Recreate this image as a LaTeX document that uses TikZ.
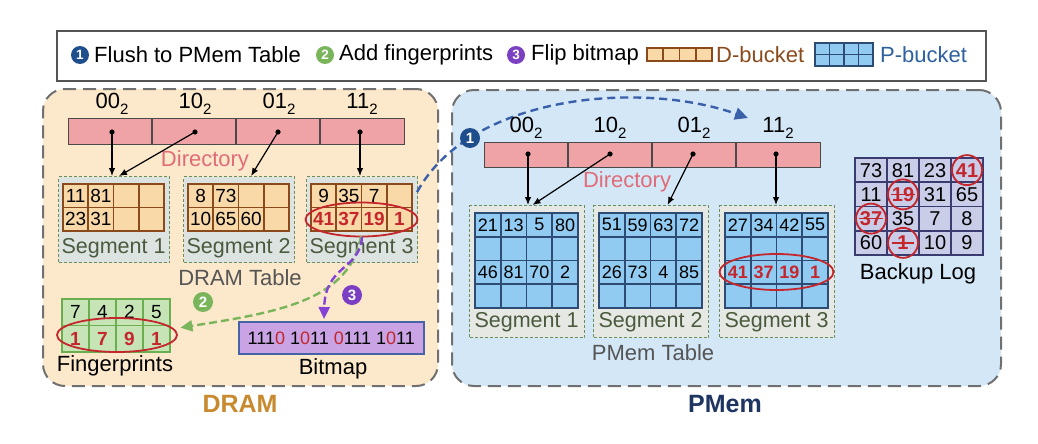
\documentclass[tikz,border=0pt]{standalone}
\usepackage{fontspec}
\setmainfont{Liberation Sans}
\usetikzlibrary{arrows.meta,calc}
\definecolor{dramfill}{HTML}{FCE8CB}
\definecolor{pmemfill}{HTML}{D4E7F7}
\definecolor{panelgray}{HTML}{707070}
\definecolor{legendgray}{HTML}{555555}
\definecolor{dirpink}{HTML}{F0A3A6}
\definecolor{dirline}{HTML}{4A4A4A}
\definecolor{dirtext}{HTML}{E06C78}
\definecolor{segfillA}{HTML}{DDE3E0}
\definecolor{segfillB}{HTML}{E6E9E3}
\definecolor{seggreen}{HTML}{6B8E5A}
\definecolor{seglabel}{HTML}{4B5A3F}
\definecolor{dbfill}{HTML}{FAD9A8}
\definecolor{dbline}{HTML}{8B4A1C}
\definecolor{pbfill}{HTML}{92CBF2}
\definecolor{pbline}{HTML}{2E4C73}
\definecolor{blfill}{HTML}{C9CDE8}
\definecolor{blline}{HTML}{3A3B6E}
\definecolor{fpfill}{HTML}{C6E4B6}
\definecolor{fpline}{HTML}{6AAE50}
\definecolor{bmfill}{HTML}{C9A3E3}
\definecolor{bmline}{HTML}{4563A8}
\definecolor{myred}{HTML}{C4262C}
\definecolor{cone}{HTML}{1F4E8D}
\definecolor{ctwo}{HTML}{7AB55C}
\definecolor{cthree}{HTML}{7B3FC4}
\definecolor{bluedash}{HTML}{3B60AA}
\definecolor{greendash}{HTML}{7AB55C}
\definecolor{purpledash}{HTML}{8443D6}
\definecolor{dramlabel}{HTML}{C78A2E}
\definecolor{pmemlabel}{HTML}{1F3561}
\definecolor{dbtext}{HTML}{8B4A1C}
\definecolor{pbtext}{HTML}{2F60A0}
\definecolor{tablegray}{HTML}{555555}
\newcommand\fsz[1]{\fontsize{#1}{#1}\selectfont}
\newcommand\subtwo{\raisebox{-0.3em}{\fsz{15}2}}
% #1 outer style, #2 inner style, #3 x0, #4 y0, #5 x1, #6 y1, #7 cols-1, #8 rows-1
\newcommand\mygrid[8]{%
  \path[#1] (#3,#4) rectangle (#5,#6);
  \foreach \i in {1,...,#7}{\draw[#2] ({#3+\i*(#5-#3)/(#7+1)},#4) -- ({#3+\i*(#5-#3)/(#7+1)},#6);}
  \foreach \j in {1,...,#8}{\draw[#2] (#3,{#4+\j*(#6-#4)/(#8+1)}) -- (#5,{#4+\j*(#6-#4)/(#8+1)});}
  \path[#1,fill=none] (#3,#4) rectangle (#5,#6);
}
% #1 x0, #2 y0, #3 w, #4 h, #5 style, #6 list c/r/v, #7 name prefix
\newcommand\nums[7]{%
  \foreach \c/\r/\v in {#6}{\node[#5] (#7\c\r) at ({#1+(\c-0.5)*#3},{#2+(\r-0.5)*#4}) {\v};}
}
\begin{document}
\begin{tikzpicture}[x=1pt,y=-1pt,
  panel/.style={draw=panelgray, line width=2pt, dash pattern=on 13pt off 7pt, rounded corners=22pt, inner sep=0pt},
  segbox/.style={draw=seggreen, line width=1.1pt, dash pattern=on 3pt off 2pt, fill=segfillA, inner sep=0pt},
  segboxb/.style={segbox, fill=segfillB},
  dirbar/.style={draw=dirline, line width=1.3pt, fill=dirpink, inner sep=0pt},
  dirsep/.style={draw=dirline, line width=1.3pt},
  dirlbl/.style={font=\fsz{22}, inner sep=0pt},
  dirtxt/.style={font=\fsz{22}, text=dirtext, inner sep=0pt},
  dirarrow/.style={-{Latex[length=8pt,width=6.5pt]}, line width=1.2pt},
  dbout/.style={draw=dbline, fill=dbfill, line width=2.6pt},
  dbin/.style={draw=dbline, line width=1.8pt},
  pbout/.style={draw=pbline, fill=pbfill, line width=2.6pt},
  pbin/.style={draw=pbline, line width=1.6pt},
  blout/.style={draw=blline, fill=blfill, line width=2.2pt},
  blin/.style={draw=blline, line width=1.6pt},
  fpout/.style={draw=fpline, fill=fpfill, line width=2.4pt},
  fpin/.style={draw=fpline, line width=1.6pt},
  bmbox/.style={draw=bmline, fill=bmfill, line width=1.6pt, inner sep=0pt, font=\fsz{18}},
  cellnum/.style={inner sep=0pt, font=\fsz{19}},
  rednum/.style={inner sep=0pt, font=\fsz{19}\bfseries, text=myred},
  pnum/.style={inner sep=0pt, font=\fsz{18}},
  prednum/.style={inner sep=0pt, font=\fsz{18}\bfseries, text=myred},
  bnum/.style={inner sep=0pt, font=\fsz{20}},
  brednum/.style={inner sep=0pt, font=\fsz{20}\bfseries, text=myred},
  redring/.style={draw=myred, line width=1.8pt},
  seglbl/.style={font=\fsz{21.5}, text=seglabel, inner sep=0pt},
  tbllbl/.style={font=\fsz{22}, text=tablegray, inner sep=0pt},
  plainlbl/.style={font=\fsz{22}, inner sep=0pt},
  numcirc/.style={circle, minimum size=20pt, inner sep=0pt, text=white, font=\fsz{15}\bfseries},
  lgcirc/.style={numcirc, minimum size=18pt, font=\fsz{13.5}\bfseries},
  lgtext/.style={font=\fsz{22}, inner sep=0pt, anchor=west},
  bluearrow/.style={draw=bluedash, line width=2.4pt, dash pattern=on 8pt off 5pt, -{Triangle[length=13pt,width=12pt]}},
  greenarrow/.style={draw=greendash, line width=2.4pt, dash pattern=on 8pt off 4pt, -{Triangle[length=12pt,width=11pt]}},
  purplearrow/.style={draw=purpledash, line width=2.4pt, dash pattern=on 8pt off 4pt, -{Triangle[length=12pt,width=11pt]}}
]
\fill[white] (0,0) rectangle (1038,444);
\useasboundingbox (0,0) rectangle (1038,444);

% ---------- legend ----------
\node[draw=legendgray, line width=1.8pt, minimum width=929pt, minimum height=50pt, anchor=north west, inner sep=0pt] (legend) at (56,30) {};
\node[lgcirc, fill=cone] (lc1) at (80,55) {1};
\node[lgtext] (lt1) at (94,55) {Flush to PMem Table};
\node[lgcirc, fill=ctwo] (lc2) at (325,55) {2};
\node[lgtext] (lt2) at (339,55) {Add fingerprints};
\node[lgcirc, fill=cthree] (lc3) at (516,55) {3};
\node[lgtext] (lt3) at (531,55) {Flip bitmap};
\path[dbout] (647,48) rectangle (712,61);
\foreach \x in {663.25,679.5,695.75} \draw[dbin] (\x,48) -- (\x,61);
\path[dbout,fill=none] (647,48) rectangle (712,61);
\node[lgtext, text=dbtext] (lt4) at (716,55) {D-bucket};
\mygrid{pbout}{pbin}{815}{43}{873}{66}{3}{1}
\node[lgtext, text=pbtext] (lt5) at (880,55) {P-bucket};

% ---------- panels ----------
\node[panel, fill=dramfill, minimum width=395pt, minimum height=297pt, anchor=north west] (dram) at (42,88) {};
\node[panel, fill=pmemfill, minimum width=549pt, minimum height=296pt, anchor=north west] (pmem) at (451,89) {};
\node[font=\fsz{25}\bfseries, text=dramlabel, inner sep=0pt] (dramlbl) at (240,404) {DRAM};
\node[font=\fsz{25}\bfseries, text=pmemlabel, inner sep=0pt] (pmemlbl) at (725,404) {PMem};

% ---------- DRAM directory ----------
\node[dirbar, minimum width=336pt, minimum height=26pt, anchor=north west] (ddir) at (68,118) {};
\foreach \x in {152,236,320} \draw[dirsep] (\x,118) -- (\x,144);
\foreach \x/\t [count=\k] in {112/00,195/10,279/01,362/11} \node[dirlbl] (ddl\k) at (\x,104) {\t\subtwo};
\node[dirtxt] (ddirt) at (205,161) {Directory};
\coordinate (dd1) at (112,132);
\coordinate (dd2) at (195,132);
\coordinate (dd3) at (278,132);
\coordinate (dd4) at (360,132);

% ---------- DRAM segments ----------
\foreach \x/\k in {63/1,188/2,311/3} {
  \node[segbox, minimum width=111pt, minimum height=86pt, anchor=north west] (ds\k) at (\x-5,176) {};
  \mygrid{dbout}{dbin}{\x}{184}{\x+101}{231}{3}{1}
  \node[seglbl] (dsl\k) at (\x+50.5,248) {Segment \k};
}
\nums{63}{184}{25.25}{23.5}{cellnum}{1/1/11,2/1/81,1/2/23,2/2/31}{a}
\nums{188}{184}{25.25}{23.5}{cellnum}{1/1/8,2/1/73,1/2/10,2/2/65,3/2/60}{b}
\nums{311}{184}{25.25}{23.5}{cellnum}{1/1/9,2/1/35,3/1/7}{c}
\nums{311}{184}{25.25}{23.5}{rednum}{1/2/41,2/2/37,3/2/19,4/2/1}{d}
\draw[redring] (361.5,219.5) ellipse [x radius=56, y radius=17];

\foreach \k in {1,...,4} \fill (dd\k) circle (2.6);
\draw[dirarrow] (dd1) -- (dd1 |- ds1.north);
\draw[dirarrow] (dd2) -- ($(ds1.north)+(5,0)$);
\draw[dirarrow] (dd3) -- ($(ds2.north)+(12,0)$);
\draw[dirarrow] (dd4) -- (dd4 |- ds3.north);

\node[tbllbl] (dramtbl) at (240,278) {DRAM Table};

% ---------- fingerprints ----------
\node[inner sep=0pt, minimum width=108pt, minimum height=53pt, anchor=north west] (fp) at (62,299) {};
\mygrid{fpout}{fpin}{62}{299}{170}{352}{3}{1}
\nums{62}{299}{27}{26.5}{cellnum}{1/1/7,2/1/4,3/1/2,4/1/5}{f}
\nums{62}{299}{27}{26.5}{rednum}{1/2/1,2/2/7,3/2/9,4/2/1}{g}
\draw[redring] (117,335) ellipse [x radius=60, y radius=17];
\node[plainlbl] (fplbl) at (115,366) {Fingerprints};

% ---------- bitmap ----------
\node[bmbox, minimum width=185pt, minimum height=32pt, anchor=north west] (bm) at (238,321)
  {111{\color{myred}0} 1{\color{myred}0}11 {\color{myred}0}111 1{\color{myred}0}11};
\node[plainlbl] (bmlbl) at (333,369) {Bitmap};

% ---------- step arrows ----------
\coordinate (g0) at (361,236);
\coordinate (p0) at (362,237);
\draw[greenarrow] (g0) .. controls (350,300) and (280,312) .. ($(fp.east)+(10,2)$);
\draw[purplearrow] (p0) .. controls (360,270) and (325,265) .. ($(bm.north west)+(86,-2)$);
\node[numcirc, fill=ctwo] (n2) at (203,302) {2};
\node[numcirc, fill=cthree] (n3) at (352,295) {3};

\coordinate (b0) at ($(ds3.north east)+(-1,16)$);
\coordinate (btip) at (748,118);
\draw[bluearrow] (b0) .. controls (470,95) and (640,80) .. (btip);
\node[numcirc, fill=cone] (n1) at (470,138) {1};

% ---------- PMem directory ----------
\node[dirbar, minimum width=336pt, minimum height=25pt, anchor=north west] (pdir) at (484,142) {};
\foreach \x in {568,652,736} \draw[dirsep] (\x,142) -- (\x,167);
\foreach \x/\t [count=\k] in {526/00,610/10,694/01,778/11} \node[dirlbl] (pdl\k) at (\x,128) {\t\subtwo};
\node[dirtxt] (pdirt) at (627,182) {Directory};
\coordinate (pd1) at (528,154);
\coordinate (pd2) at (610,154);
\coordinate (pd3) at (693,154);
\coordinate (pd4) at (776,154);

% ---------- PMem segments ----------
\foreach \x/\k in {475/1,599/2,725/3} {
  \node[segboxb, minimum width=115pt, minimum height=132pt, anchor=north west] (ps\k) at (\x-6,205) {};
  \mygrid{pbout}{pbin}{\x}{213}{\x+103}{308}{3}{3}
  \node[seglbl] (psl\k) at (\x+51.5,322) {Segment \k};
}
\nums{475}{213}{25.75}{23.75}{pnum}{1/1/21,2/1/13,3/1/5,4/1/80,1/3/46,2/3/81,3/3/70,4/3/2}{p}
\nums{599}{213}{25.75}{23.75}{pnum}{1/1/51,2/1/59,3/1/63,4/1/72,1/3/26,2/3/73,3/3/4,4/3/85}{q}
\nums{725}{213}{25.75}{23.75}{pnum}{1/1/27,2/1/34,3/1/42,4/1/55}{r}
\nums{725}{213}{25.75}{23.75}{prednum}{1/3/41,2/3/37,3/3/19,4/3/1}{s}
\draw[redring] (776.5,272) ellipse [x radius=57, y radius=18];

\foreach \k in {1,...,4} \fill (pd\k) circle (2.6);
\draw[dirarrow] (pd1) -- (pd1 |- ps1.north);
\draw[dirarrow] (pd2) -- ($(ps1.north)+(5.5,0)$);
\draw[dirarrow] (pd3) -- ($(ps2.north)+(16.5,0)$);
\draw[dirarrow] (pd4) -- (pd4 |- ps3.north);

\node[tbllbl] (pmemtbl) at (653,353) {PMem Table};

% ---------- backup log ----------
\mygrid{blout}{blin}{855}{158}{983}{255}{3}{3}
\nums{855}{158}{32}{24.25}{bnum}{1/1/73,2/1/81,3/1/23,1/2/11,3/2/31,4/2/65,2/3/35,3/3/7,4/3/8,1/4/60,3/4/10,4/4/9}{u}
\nums{855}{158}{32}{24.25}{brednum}{4/1/41,2/2/19,1/3/37,2/4/1}{v}
\draw[myred, line width=1.6pt] ($(v22.west)+(-1,0)$) -- ($(v22.east)+(1,0)$);
\draw[myred, line width=1.6pt] ($(v13.west)+(-1,0)$) -- ($(v13.east)+(1,0)$);
\draw[myred, line width=1.6pt] ($(v24.west)+(-5,0)$) -- ($(v24.east)+(5,0)$);
\foreach \n in {v41,v22,v13,v24} \draw[redring] (\n) circle (15);
\node[plainlbl] (bllbl) at (918,274) {Backup Log};

\end{tikzpicture}
\end{document}
